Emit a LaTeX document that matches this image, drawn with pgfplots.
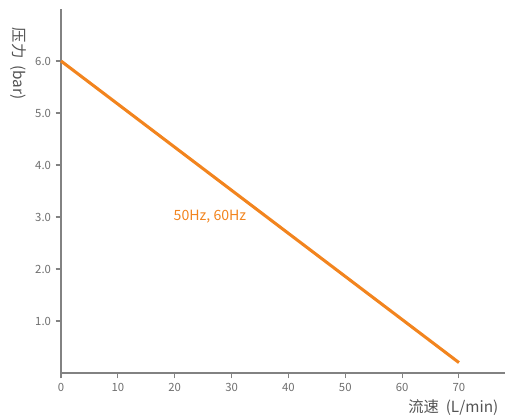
\documentclass[border=0pt]{standalone}
\usepackage{fontspec}
\setmainfont{Noto Sans CJK SC}
\usepackage{pgfplots}
\pgfplotsset{compat=1.18}
\definecolor{axgray}{RGB}{130,130,130}
\definecolor{txtgray}{RGB}{110,110,110}
\definecolor{lineorange}{RGB}{242,132,30}
\begin{document}
\begin{tikzpicture}[x=0.75pt,y=0.75pt]
\useasboundingbox (0,0) rectangle (507,419);
\begin{axis}[
  at={(61pt*0.75,46pt*0.75)}, anchor=origin,
  scale only axis,
  width=444*0.75pt, height=364*0.75pt,
  xmin=0, xmax=78.1, ymin=0, ymax=7,
  axis lines*=left,
  axis line style={axgray, line width=1pt, -},
  xtick={0,10,...,70},
  ytick={1,2,...,6},
  tick align=outside,
  major tick length=4pt,
  tick style={axgray, line width=0.8pt},
  /pgf/number format/assume math mode=true,
  yticklabel style={/pgf/number format/.cd, fixed, fixed zerofill, precision=1},
  ticklabel style={font=\fontsize{8.5}{9}\selectfont, text=txtgray},
  clip=false,
]
\addplot[lineorange, line width=2.3pt] coordinates {(0,6.0) (70,0.2)};
\node[anchor=west, text=lineorange, font=\fontsize{10.6}{12}\selectfont] at (axis cs:19.0,3.0) {50Hz, 60Hz};
\end{axis}
\node[rotate=-90, anchor=west, text=txtgray!75!black, font=\fontsize{11.5}{13}\selectfont] at (18,396) {压力\hspace{0.45em}(bar)};
\node[anchor=east, text=txtgray!75!black, font=\fontsize{11.5}{13}\selectfont] at (503,11) {流速\hspace{0.45em}(L/min)};
\end{tikzpicture}
\end{document}
